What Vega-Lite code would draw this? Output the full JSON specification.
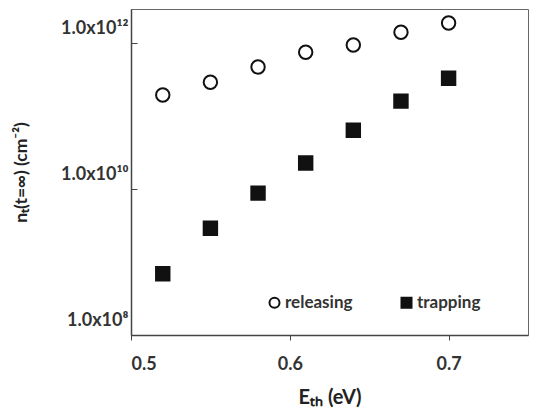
{
  "$schema": "https://vega.github.io/schema/vega-lite/v6.json",
  "width": 397,
  "height": 326,
  "autosize": "none",
  "padding": {"left": 131, "top": 9, "right": 5, "bottom": 73},
  "background": "white",
  "config": {
    "view": {"stroke": "#666", "strokeWidth": 1},
    "font": "Lato"
  },
  "data": {
    "values": [
      {"E": 0.52, "n": 1.94e11, "type": "releasing"},
      {"E": 0.55, "n": 2.9e11, "type": "releasing"},
      {"E": 0.58, "n": 4.7e11, "type": "releasing"},
      {"E": 0.61, "n": 7.5e11, "type": "releasing"},
      {"E": 0.64, "n": 9.4e11, "type": "releasing"},
      {"E": 0.67, "n": 1.41e12, "type": "releasing"},
      {"E": 0.70, "n": 1.88e12, "type": "releasing"},
      {"E": 0.52, "n": 6.9e8, "type": "trapping"},
      {"E": 0.55, "n": 2.9e9, "type": "trapping"},
      {"E": 0.58, "n": 8.8e9, "type": "trapping"},
      {"E": 0.61, "n": 2.27e10, "type": "trapping"},
      {"E": 0.64, "n": 6.4e10, "type": "trapping"},
      {"E": 0.67, "n": 1.6e11, "type": "trapping"},
      {"E": 0.70, "n": 3.3e11, "type": "trapping"}
    ]
  },
  "mark": {"type": "point", "strokeWidth": 2, "size": 180, "opacity": 1},
  "encoding": {
    "x": {
      "field": "E",
      "type": "quantitative",
      "scale": {"domain": [0.5, 0.75], "nice": false, "zero": false},
      "axis": {
        "values": [0.5, 0.6, 0.7],
        "format": ".1f",
        "title": "Eₜₕ (eV)",
        "titleFontSize": 20,
        "titleFontWeight": "bold",
        "titleColor": "#222",
        "titlePadding": 14,
        "labelFontSize": 18,
        "labelFontWeight": "bold",
        "labelColor": "#333",
        "labelPadding": 15,
        "tickSize": 5,
        "tickColor": "#444",
        "domainColor": "#444",
        "domainWidth": 1.5,
        "grid": false
      }
    },
    "y": {
      "field": "n",
      "type": "quantitative",
      "scale": {"type": "log", "domain": [1e8, 2.93e12], "nice": false},
      "axis": {
        "values": [1e8, 1e10, 1e12],
        "labelExpr": "datum.value >= 1e12 ? '1.0x10¹²' : datum.value >= 1e10 ? '1.0x10¹⁰' : '1.0x10⁸'",
        "title": "nₜ(t=∞) (cm⁻²)",
        "titleFontSize": 17.5,
        "titleFontWeight": "bold",
        "titleColor": "#222",
        "titlePadding": 30,
        "labelFontSize": 18,
        "labelFontWeight": "bold",
        "labelColor": "#333",
        "labelPadding": 9,
        "labelOffset": -15,
        "tickSize": -6,
        "tickColor": "#444",
        "domainColor": "#444",
        "domainWidth": 1.5,
        "grid": false
      }
    },
    "shape": {
      "field": "type",
      "type": "nominal",
      "scale": {"domain": ["releasing", "trapping"], "range": ["circle", "square"]},
      "legend": {
        "title": null,
        "orient": "none",
        "legendX": 135,
        "legendY": 285,
        "direction": "horizontal",
        "labelFontSize": 17,
        "labelFontWeight": "bold",
        "labelColor": "#333",
        "symbolSize": 100,
        "symbolStrokeWidth": 2,
        "symbolOpacity": 1,
        "columnPadding": 44,
        "labelOffset": 2
      }
    },
    "fill": {
      "field": "type",
      "type": "nominal",
      "scale": {"domain": ["releasing", "trapping"], "range": ["white", "#111"]},
      "legend": null
    },
    "stroke": {
      "field": "type",
      "type": "nominal",
      "scale": {"domain": ["releasing", "trapping"], "range": ["#111", "#111"]},
      "legend": null
    }
  }
}
